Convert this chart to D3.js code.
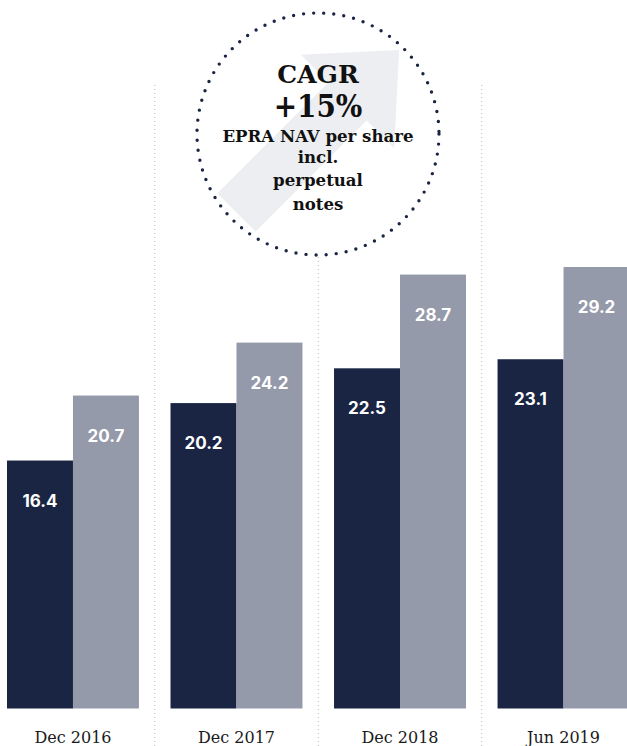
<!DOCTYPE html>
<html>
<head>
<meta charset="utf-8">
<script src="https://cdn.jsdelivr.net/npm/d3@7"></script>
<style>
  html, body { margin: 0; padding: 0; background: #ffffff; }
  svg { display: block; }
</style>
</head>
<body>
<div id="chart"></div>
<script>
// Periods shown along the bottom
const periods = ["Dec 2016", "Dec 2017", "Dec 2018", "Jun 2019"];
// EPRA NAV per share (dark) and incl. perpetual notes (light), EUR
const navPerShare = [16.4, 20.2, 22.5, 23.1];
const navInclNotes = [20.7, 24.2, 28.7, 29.2];
const seriesKeys = ["nav", "navIncl"];
const seriesColors = ["#1a2544", "#959aab"];
// Call-out text
const badgeLines = ["CAGR", "+15%", "EPRA NAV per share", "incl.", "perpetual", "notes"];

const W = 627, H = 746;
const baseY = 708.5;

const rows = periods.map((p, i) => ({ period: p, nav: navPerShare[i], navIncl: navInclNotes[i] }));

const svg = d3.select("#chart").append("svg")
  .attr("width", W).attr("height", H);

const x0 = d3.scaleBand().domain(periods).range([7, 629.5]).paddingInner(0.193).paddingOuter(0);
const x1 = d3.scaleBand().domain(seriesKeys).range([0, x0.bandwidth()]).padding(0);
const y = d3.scaleLinear().domain([0, 46.86]).range([baseY, 0]);
const color = d3.scaleOrdinal().domain(seriesKeys).range(seriesColors);

// Dotted separators between periods
const sepX = periods.slice(1).map(p => x0(p) - x0.step() * x0.paddingInner() / 2);
svg.append("g").selectAll("line").data(sepX).join("line")
  .attr("x1", d => d).attr("x2", d => d)
  .attr("y1", 85).attr("y2", H)
  .attr("stroke", "#b4b6c0").attr("stroke-width", 1)
  .attr("stroke-dasharray", "1 3");

// Bars
const groups = svg.append("g").selectAll("g").data(rows).join("g")
  .attr("transform", d => `translate(${x0(d.period)},0)`);

groups.selectAll("rect").data(d => seriesKeys.map(k => ({ key: k, value: d[k] }))).join("rect")
  .attr("x", d => x1(d.key))
  .attr("width", x1.bandwidth())
  .attr("y", d => y(d.value))
  .attr("height", d => baseY - y(d.value))
  .attr("fill", d => color(d.key));

groups.selectAll("text.val").data(d => seriesKeys.map(k => ({ key: k, value: d[k] }))).join("text")
  .attr("class", "val")
  .attr("x", d => x1(d.key) + x1.bandwidth() / 2)
  .attr("y", d => y(d.value) + 46)
  .attr("text-anchor", "middle")
  .attr("fill", "#ffffff")
  .attr("font-family", "Inter, Roboto, 'Noto Sans', sans-serif")
  .attr("font-weight", 700)
  .attr("font-size", 17)
  .text(d => d3.format(".1f")(d.value));

// Period labels
svg.append("g").selectAll("text").data(periods).join("text")
  .attr("x", d => x0(d) + x0.bandwidth() / 2)
  .attr("y", 743)
  .attr("text-anchor", "middle")
  .attr("fill", "#1a1a1a")
  .attr("font-family", "'DejaVu Serif', serif")
  .attr("font-size", 16)
  .text(d => d);

// Growth call-out: dotted circle with a pale arrow behind the text
const cx = 318, cy = 134, r = 121;
const badge = svg.append("g");
badge.append("circle")
  .attr("cx", cx).attr("cy", cy).attr("r", r)
  .attr("fill", "#ffffff")
  .attr("stroke", "#1a2544")
  .attr("stroke-width", 3.4)
  .attr("stroke-linecap", "round")
  .attr("stroke-dasharray", "0 10.1");

// Arrow drawn along its own axis, then turned 45° up-right
const headLen = 73, headHalf = 66, shaftHalf = 27, shaftLen = 157;
const arrowPts = [
  [-shaftLen, -shaftHalf], [0, -shaftHalf], [0, -headHalf], [headLen, 0],
  [0, headHalf], [0, shaftHalf], [-shaftLen, shaftHalf]
];
badge.append("path")
  .attr("transform", "translate(347.5,101.5) rotate(-45)")
  .attr("d", d3.line()(arrowPts) + "Z")
  .attr("fill", "#eceef2");

const lineSpec = [
  { y: 83, size: 25 },
  { y: 117, size: 31 },
  { y: 142, size: 16.6 },
  { y: 163, size: 16.6 },
  { y: 186, size: 16.6 },
  { y: 210, size: 16.6 }
];
badge.selectAll("text").data(badgeLines).join("text")
  .attr("x", cx)
  .attr("y", (d, i) => lineSpec[i].y)
  .attr("text-anchor", "middle")
  .attr("fill", "#111111")
  .attr("font-family", "'DejaVu Serif', serif")
  .attr("font-weight", 700)
  .attr("font-size", (d, i) => lineSpec[i].size)
  .attr("font-stretch", (d, i) => i === 1 ? "condensed" : "normal")
  .text(d => d);
</script>
</body>
</html>
